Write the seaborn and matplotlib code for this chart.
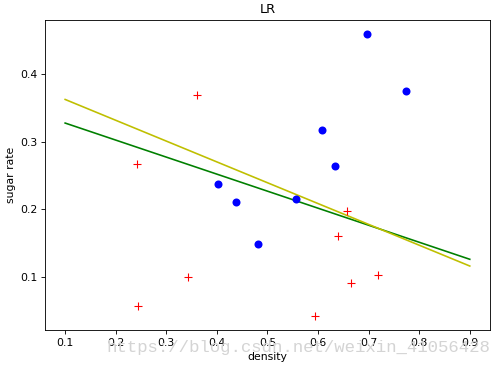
import numpy as np
import pandas as pd
import matplotlib
matplotlib.use('Agg')
import matplotlib.pyplot as plt
import seaborn as sns

# watermelon 3.0a
density = [0.697, 0.774, 0.634, 0.608, 0.556, 0.403, 0.481, 0.437,
           0.666, 0.243, 0.245, 0.343, 0.639, 0.657, 0.360, 0.593, 0.719]
sugar = [0.460, 0.376, 0.264, 0.318, 0.215, 0.237, 0.149, 0.211,
         0.091, 0.267, 0.057, 0.099, 0.161, 0.198, 0.370, 0.042, 0.103]
label = [1] * 8 + [0] * 9

# decision boundaries
line_x = [0.1, 0.9]
green_y = [0.328, 0.126]
yellow_y = [0.363, 0.116]

df = pd.DataFrame({'density': density, 'sugar': sugar, 'label': label})
pos = df[df.label == 1]
neg = df[df.label == 0]

dpi = 78
fig, ax = plt.subplots(figsize=(499 / dpi, 368 / dpi), dpi=dpi)
sns.scatterplot(x=pos.density, y=pos.sugar, color='b', marker='o', s=55,
                linewidth=0, ax=ax, zorder=3)
ax.plot(neg.density, neg.sugar, linestyle='none', marker='+', color='#ff0000',
        markeredgecolor='#ff0000', markersize=6.5, markeredgewidth=1.0, zorder=3)
sns.lineplot(x=line_x, y=green_y, color='g', ax=ax)
sns.lineplot(x=line_x, y=yellow_y, color='y', ax=ax)

ax.set_xlim(0.06, 0.94)
ax.set_ylim(0.021, 0.481)
ax.set_xticks([0.1, 0.2, 0.3, 0.4, 0.5, 0.6, 0.7, 0.8, 0.9])
ax.set_yticks([0.1, 0.2, 0.3, 0.4])
ax.set_title('LR')
ax.set_xlabel('density')
ax.set_ylabel('sugar rate')

fig.text(0.982, 0.057, 'https://blog.csdn.net/weixin_41056428', ha='right',
         va='center', fontsize=16, color='#d4d4d4', family='Liberation Mono')

plt.subplots_adjust(left=0.09, right=0.982, top=0.946, bottom=0.103)
plt.savefig('out.png', dpi=dpi)
